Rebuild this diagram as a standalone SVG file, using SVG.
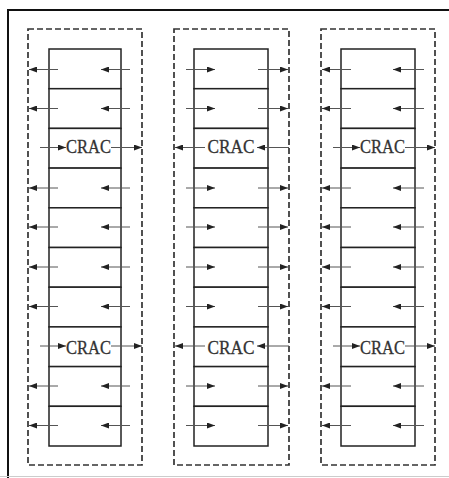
<svg xmlns="http://www.w3.org/2000/svg" width="449" height="478" viewBox="0 0 449 478">
<defs>
<style>
.frame{fill:none;stroke:#111;stroke-width:2}
.dash{fill:none;stroke:#333;stroke-width:1.7;stroke-dasharray:6,3}
.cell{fill:#fff;stroke:#222;stroke-width:1.5}
.arr{stroke:#555;stroke-width:1;fill:none;marker-end:url(#ah)}
.lbl{font-family:"Liberation Serif","DejaVu Serif",serif;font-size:19px;fill:#333;stroke:#333;stroke-width:0.3;text-anchor:middle}
</style>
<marker id="ah" markerWidth="8" markerHeight="6" refX="8" refY="3" orient="auto" markerUnits="userSpaceOnUse">
<path d="M0,0 L8,3 L0,6 z" fill="#222"/>
</marker>
</defs>
<rect width="449" height="478" fill="#fff"/>
<path class="frame" d="M8,478 V10 H449"/>
<line x1="0" y1="476.5" x2="449" y2="476.5" stroke="#ccc" stroke-width="1"/>

<g id="col1">
<rect class="dash" x="28" y="29" width="114" height="436"/>
<rect class="cell" x="49" y="49" width="72" height="39.7"/>
<rect class="cell" x="49" y="88.7" width="72" height="39.7"/>
<rect class="cell" x="49" y="128.4" width="72" height="39.7"/>
<rect class="cell" x="49" y="168.1" width="72" height="39.7"/>
<rect class="cell" x="49" y="207.8" width="72" height="39.7"/>
<rect class="cell" x="49" y="247.5" width="72" height="39.7"/>
<rect class="cell" x="49" y="287.2" width="72" height="39.7"/>
<rect class="cell" x="49" y="326.9" width="72" height="39.7"/>
<rect class="cell" x="49" y="366.6" width="72" height="39.7"/>
<rect class="cell" x="49" y="406.3" width="72" height="39.7"/>
<text class="lbl" x="88.5" y="153" textLength="45" lengthAdjust="spacingAndGlyphs">CRAC</text>
<text class="lbl" x="88.5" y="354" textLength="45" lengthAdjust="spacingAndGlyphs">CRAC</text>
</g>

<g id="col2">
<rect class="dash" x="174" y="29" width="115" height="436"/>
<rect class="cell" x="194" y="49" width="74" height="39.7"/>
<rect class="cell" x="194" y="88.7" width="74" height="39.7"/>
<rect class="cell" x="194" y="128.4" width="74" height="39.7"/>
<rect class="cell" x="194" y="168.1" width="74" height="39.7"/>
<rect class="cell" x="194" y="207.8" width="74" height="39.7"/>
<rect class="cell" x="194" y="247.5" width="74" height="39.7"/>
<rect class="cell" x="194" y="287.2" width="74" height="39.7"/>
<rect class="cell" x="194" y="326.9" width="74" height="39.7"/>
<rect class="cell" x="194" y="366.6" width="74" height="39.7"/>
<rect class="cell" x="194" y="406.3" width="74" height="39.7"/>
<text class="lbl" x="231" y="153" textLength="47" lengthAdjust="spacingAndGlyphs">CRAC</text>
<text class="lbl" x="231" y="354" textLength="47" lengthAdjust="spacingAndGlyphs">CRAC</text>
</g>

<g id="col3">
<rect class="dash" x="321" y="29" width="114" height="436"/>
<rect class="cell" x="341" y="49" width="74" height="39.7"/>
<rect class="cell" x="341" y="88.7" width="74" height="39.7"/>
<rect class="cell" x="341" y="128.4" width="74" height="39.7"/>
<rect class="cell" x="341" y="168.1" width="74" height="39.7"/>
<rect class="cell" x="341" y="207.8" width="74" height="39.7"/>
<rect class="cell" x="341" y="247.5" width="74" height="39.7"/>
<rect class="cell" x="341" y="287.2" width="74" height="39.7"/>
<rect class="cell" x="341" y="326.9" width="74" height="39.7"/>
<rect class="cell" x="341" y="366.6" width="74" height="39.7"/>
<rect class="cell" x="341" y="406.3" width="74" height="39.7"/>
<text class="lbl" x="382.5" y="153" textLength="45" lengthAdjust="spacingAndGlyphs">CRAC</text>
<text class="lbl" x="382.5" y="354" textLength="45" lengthAdjust="spacingAndGlyphs">CRAC</text>
</g>

<g id="connectors">
<!-- column 1 -->
<path class="arr" d="M58,69.5 H29"/><path class="arr" d="M130,69.5 H101"/>
<path class="arr" d="M58,108.5 H29"/><path class="arr" d="M130,108.5 H101"/>
<path class="arr" d="M40,147.5 H66"/><path class="arr" d="M111,147.5 H142"/>
<path class="arr" d="M58,188 H29"/><path class="arr" d="M130,188 H101"/>
<path class="arr" d="M58,227 H29"/><path class="arr" d="M130,227 H101"/>
<path class="arr" d="M58,267 H29"/><path class="arr" d="M130,267 H101"/>
<path class="arr" d="M58,306.5 H29"/><path class="arr" d="M130,306.5 H101"/>
<path class="arr" d="M40,346 H66"/><path class="arr" d="M111,346 H142"/>
<path class="arr" d="M58,386 H29"/><path class="arr" d="M130,386 H101"/>
<path class="arr" d="M58,425.5 H29"/><path class="arr" d="M130,425.5 H101"/>
<!-- column 2 -->
<path class="arr" d="M186,69.5 H215"/><path class="arr" d="M258,69.5 H288"/>
<path class="arr" d="M186,108.5 H215"/><path class="arr" d="M258,108.5 H288"/>
<path class="arr" d="M205,147.5 H175"/><path class="arr" d="M289,147.5 H257"/>
<path class="arr" d="M186,188 H215"/><path class="arr" d="M258,188 H288"/>
<path class="arr" d="M186,227 H215"/><path class="arr" d="M258,227 H288"/>
<path class="arr" d="M186,267 H215"/><path class="arr" d="M258,267 H288"/>
<path class="arr" d="M186,306.5 H215"/><path class="arr" d="M258,306.5 H288"/>
<path class="arr" d="M205,346 H175"/><path class="arr" d="M289,346 H257"/>
<path class="arr" d="M186,386 H215"/><path class="arr" d="M258,386 H288"/>
<path class="arr" d="M186,425.5 H215"/><path class="arr" d="M258,425.5 H288"/>
<!-- column 3 -->
<path class="arr" d="M351,69.5 H322"/><path class="arr" d="M424,69.5 H393"/>
<path class="arr" d="M351,108.5 H322"/><path class="arr" d="M424,108.5 H393"/>
<path class="arr" d="M333,147.5 H360"/><path class="arr" d="M405,147.5 H435"/>
<path class="arr" d="M351,188 H322"/><path class="arr" d="M424,188 H393"/>
<path class="arr" d="M351,227 H322"/><path class="arr" d="M424,227 H393"/>
<path class="arr" d="M351,267 H322"/><path class="arr" d="M424,267 H393"/>
<path class="arr" d="M351,306.5 H322"/><path class="arr" d="M424,306.5 H393"/>
<path class="arr" d="M333,346 H360"/><path class="arr" d="M405,346 H435"/>
<path class="arr" d="M351,386 H322"/><path class="arr" d="M424,386 H393"/>
<path class="arr" d="M351,425.5 H322"/><path class="arr" d="M424,425.5 H393"/>
</g>
</svg>
